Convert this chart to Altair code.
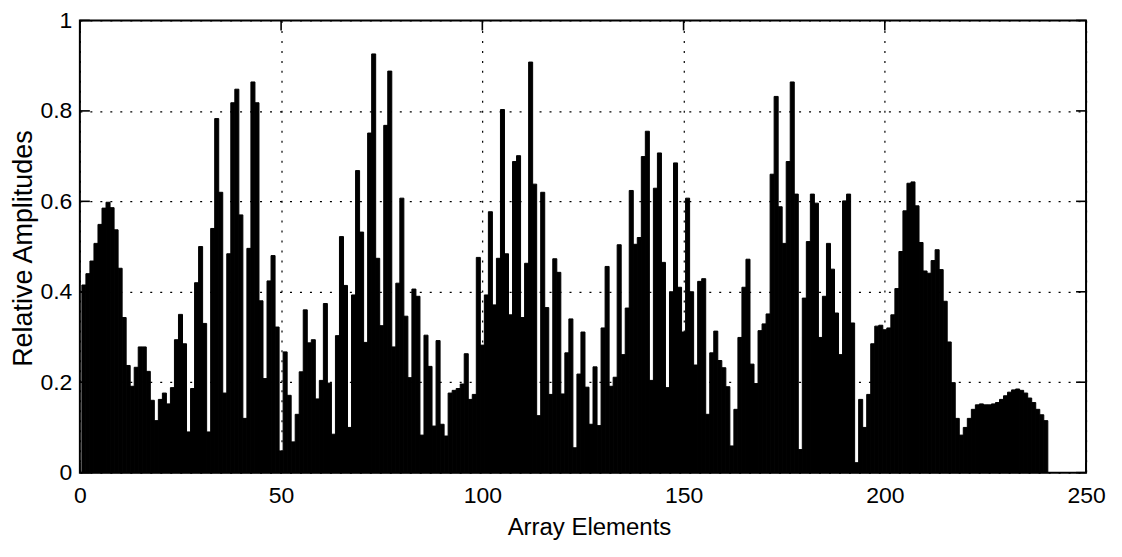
import altair as alt
import pandas as pd

# ---- data ----
elements = list(range(1, 241))
amplitudes = [
    # 1-25
    0.415, 0.44, 0.468, 0.507, 0.549, 0.585, 0.598, 0.586, 0.537, 0.452,
    0.343, 0.237, 0.191, 0.233, 0.278, 0.278, 0.224, 0.16, 0.115, 0.162,
    0.176, 0.152, 0.188, 0.294, 0.35,
    # 26-50
    0.285, 0.09, 0.186, 0.42, 0.5, 0.33, 0.09, 0.54, 0.783, 0.62,
    0.176, 0.484, 0.818, 0.848, 0.57, 0.12, 0.496, 0.864, 0.818, 0.38,
    0.208, 0.424, 0.48, 0.322, 0.048,
    # 51-74
    0.267, 0.171, 0.068, 0.129, 0.223, 0.36, 0.287, 0.294, 0.163, 0.204,
    0.374, 0.198, 0.085, 0.303, 0.522, 0.414, 0.1, 0.393, 0.668, 0.532,
    0.288, 0.751, 0.926, 0.474,
    # 75-99
    0.325, 0.768, 0.888, 0.278, 0.419, 0.607, 0.346, 0.21, 0.406, 0.39,
    0.083, 0.304, 0.235, 0.103, 0.292, 0.107, 0.081, 0.176, 0.182, 0.186,
    0.196, 0.263, 0.162, 0.173, 0.476,
    # 100-124
    0.282, 0.393, 0.577, 0.371, 0.474, 0.803, 0.484, 0.349, 0.688, 0.701,
    0.343, 0.463, 0.908, 0.638, 0.126, 0.62, 0.365, 0.173, 0.473, 0.443,
    0.174, 0.265, 0.34, 0.055, 0.218,
    # 125-149
    0.311, 0.189, 0.107, 0.234, 0.104, 0.32, 0.456, 0.191, 0.211, 0.504,
    0.261, 0.364, 0.624, 0.505, 0.52, 0.699, 0.755, 0.204, 0.629, 0.707,
    0.465, 0.188, 0.4, 0.685, 0.41,
    # 150-173
    0.311, 0.607, 0.4, 0.238, 0.423, 0.429, 0.129, 0.265, 0.313, 0.248,
    0.232, 0.19, 0.059, 0.14, 0.299, 0.41, 0.472, 0.24, 0.197, 0.314,
    0.329, 0.351, 0.66, 0.832,
    # 174-197
    0.588, 0.507, 0.688, 0.864, 0.616, 0.051, 0.386, 0.511, 0.616, 0.596,
    0.299, 0.39, 0.507, 0.45, 0.353, 0.261, 0.601, 0.616, 0.331, 0.022,
    0.162, 0.1, 0.173, 0.285,
    # 198-220
    0.324, 0.326, 0.316, 0.32, 0.349, 0.407, 0.489, 0.579, 0.64, 0.643,
    0.59, 0.509, 0.446, 0.441, 0.469, 0.493, 0.449, 0.379, 0.289, 0.199,
    0.12, 0.083, 0.1,
    # 221-240
    0.12, 0.14, 0.15, 0.152, 0.15, 0.15, 0.152, 0.155, 0.162, 0.17,
    0.178, 0.183, 0.185, 0.182, 0.176, 0.165, 0.155, 0.14, 0.128, 0.115,
]
x_ticks = [0, 50, 100, 150, 200, 250]
y_ticks = [0, 0.2, 0.4, 0.6, 0.8, 1.0]

W, H = 1008, 453
FONT = "Liberation Sans, Arial, Helvetica, sans-serif"

df = pd.DataFrame({"element": elements, "amp": amplitudes})
df["left"] = df["element"] - 0.5
df["right"] = df["element"] + 0.5
df["base"] = 0.0

xscale = alt.Scale(domain=[0, 250], nice=False, zero=False)
yscale = alt.Scale(domain=[0, 1], nice=False)

x_axis = alt.Axis(
    values=x_ticks, grid=True, gridDash=[2, 8], gridColor="black", gridWidth=1.2,
    gridOpacity=1, domain=False, ticks=False, tickSize=0,
    labelFont=FONT, labelFontSize=23, labelColor="black", labelPadding=12,
    labelFlush=False, labelOverlap=False,
    title="Array Elements", titleFont=FONT, titleFontSize=24,
    titleFontWeight="normal", titleColor="black",
    titleX=510, titleY=55, titleBaseline="middle", titleAlign="center",
)
y_axis = alt.Axis(
    values=y_ticks, format=".1~f", grid=True, gridDash=[2, 8], gridColor="black",
    gridWidth=1.2, gridOpacity=1, domain=False, ticks=False, tickSize=0,
    labelFont=FONT, labelFontSize=23, labelColor="black", labelPadding=8,
    labelFlush=False, labelOverlap=False,
    title="Relative Amplitudes", titleFont=FONT, titleFontSize=27,
    titleFontWeight="normal", titleColor="black",
    titleX=-56, titleY=228, titleBaseline="middle", titleAlign="center",
    titleAngle=270,
)

bars = alt.Chart(df).mark_rect(color="black", stroke="black", strokeWidth=1).encode(
    x=alt.X("left:Q", scale=xscale, axis=x_axis),
    x2="right:Q",
    y=alt.Y("amp:Q", scale=yscale, axis=y_axis),
    y2="base:Q",
)

ytick_df = pd.DataFrame({"t": y_ticks})
xtick_df = pd.DataFrame({"t": x_ticks})

left_ticks = alt.Chart(ytick_df).mark_rule(color="black", strokeWidth=1.6).encode(
    y=alt.Y("t:Q", scale=yscale, axis=y_axis), x=alt.value(0), x2=alt.value(10))
right_ticks = alt.Chart(ytick_df).mark_rule(color="black", strokeWidth=1.6).encode(
    y=alt.Y("t:Q", scale=yscale, axis=y_axis), x=alt.value(W - 10), x2=alt.value(W))
top_ticks = alt.Chart(xtick_df).mark_rule(color="black", strokeWidth=1.6).encode(
    x=alt.X("t:Q", scale=xscale, axis=x_axis), y=alt.value(0), y2=alt.value(10))
bottom_ticks = alt.Chart(xtick_df).mark_rule(color="black", strokeWidth=1.6).encode(
    x=alt.X("t:Q", scale=xscale, axis=x_axis), y=alt.value(H - 10), y2=alt.value(H))

chart = alt.layer(bars, left_ticks, right_ticks, top_ticks, bottom_ticks).properties(
    width=W, height=H,
    padding={"left": 72, "top": 12, "right": 28, "bottom": 72},
    autosize=alt.AutoSizeParams(type="none"),
    background="white",
).configure_view(stroke="black", strokeWidth=2)

chart.save("out.html", embed_options={"renderer": "svg", "actions": False})
